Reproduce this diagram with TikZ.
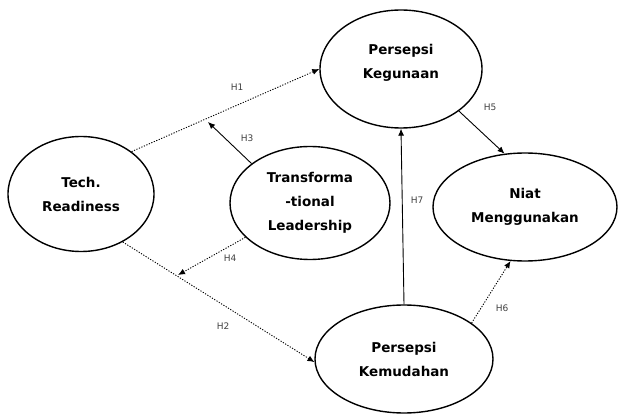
\documentclass[tikz,border=0pt]{standalone}
\usepackage{fontspec}
\setmainfont{DejaVu Sans}
\usepackage{tikz}
\usetikzlibrary{shapes,arrows.meta,positioning}

\begin{document}
\begin{tikzpicture}[x=1pt, y=-1pt,
    construct/.style={ellipse, draw, line width=1.4pt, align=center, inner sep=0pt, font=\bfseries\fontsize{13.5}{24}\selectfont},
    effect/.style={-{Latex[length=7pt,width=6pt]}, line width=0.9pt},
    dots/.style={dash pattern=on 1.2pt off 1.5pt},
    hlabel/.style={font=\fontsize{9}{10}\selectfont, text=black!75, inner sep=1pt}]
    \useasboundingbox (0,0) rectangle (619,414);

    % Nodes
    \node (tech) [construct, minimum width=146pt, minimum height=115pt] at (81,194) {Tech.\\Readiness};
    \node (trans) [construct, minimum width=160pt, minimum height=113pt] at (310,203) {Transforma\\-tional\\Leadership};
    \node (keg) [construct, minimum width=162pt, minimum height=118pt] at (401,69) {Persepsi\\Kegunaan\\[-8pt]};
    \node (niat) [construct, minimum width=184pt, minimum height=108pt] at (525,207) {Niat\\Menggunakan};
    \node (kem) [construct, minimum width=178pt, minimum height=108pt] at (404,359) {Persepsi\\Kemudahan};

    % moderation points on H1 and H2
    \coordinate (h3end) at (208,122);
    \coordinate (h4end) at (178,275);

    % Edges
    \draw[effect, dots] (tech.40) -- (keg.west);
    \draw[effect] (trans.146) -- (h3end);
    \draw[effect, dots] (tech.-49) -- (kem.182);
    \draw[effect, dots] (trans.208) -- (h4end);
    \draw[effect] (keg.-36) -- (niat.111);
    \draw[effect, dots] (kem.28) -- (niat.255);
    \draw[effect] (kem.north) -- (keg.south);

    % Labels
    \node (lh1) [hlabel] at (237,87) {H1};
    \node (lh2) [hlabel] at (223,326) {H2};
    \node (lh3) [hlabel] at (247,138) {H3};
    \node (lh4) [hlabel] at (230,258) {H4};
    \node (lh5) [hlabel] at (490,107) {H5};
    \node (lh6) [hlabel] at (502,308) {H6};
    \node (lh7) [hlabel] at (417,200) {H7};
\end{tikzpicture}
\end{document}
